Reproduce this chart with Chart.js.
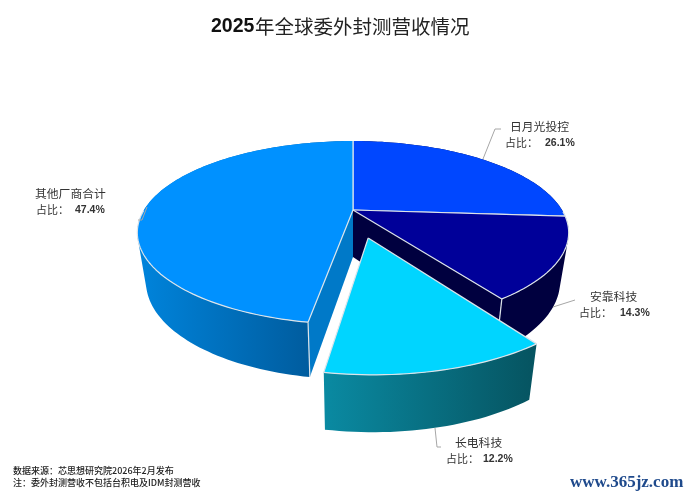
<!DOCTYPE html>
<html><head><meta charset="utf-8">
<style>html,body{margin:0;padding:0;background:#fff}canvas{display:block}</style>
<script src="https://cdn.jsdelivr.net/npm/chart.js@4"></script></head>
<body><canvas id="c" width="693" height="498"></canvas>
<script>
const categories = ['日月光投控','安靠科技','长电科技','其他厂商合计'];
const shares = [26.1,14.3,12.2,47.4];
const topColors = ['#0047FF','#000099','#00D5FF','#0091FF'];
const titleNumber = '2025';
const titleText = '年全球委外封测营收情况';
const sourceNote = '数据来源：芯思想研究院2026年2月发布';
const scopeNote = '注：委外封测营收不包括台积电及IDM封测营收';
const watermark = 'www.365jz.com';

// projection of the pie plane on to the page
const P = {cx:353, cy:210, A:209, B:86, p:0.247, shrink:0.96, h0:47, h1:8};
function proj(u,v){const w=1-P.p*v;return {x:P.cx+P.A*u/w,y:P.cy+P.B*v/w,v};}
function low(q){return {x:P.cx+(q.x-P.cx)*P.shrink,y:q.y+P.h0+P.h1*q.v,v:q.v};}

const walls = [
  {fill:()=>'#00003F',face:'#00003F'},
  {fill:()=>'#00003F',face:'#00003F'},
  {fill:c=>grad(c,324,530,'#0A8AA2','#065562'),face:'#06606F'},
  {fill:c=>grad(c,138,310,'#0084DC','#005C9E'),face:'#0079C8'}
];
function grad(c,a,b,s,e){const g=c.createLinearGradient(a,0,b,0);g.addColorStop(0,s);g.addColorStop(1,e);return g;}

function geom(arc){
  const {startAngle:s,endAngle:e,outerRadius:r}=arc;
  const off=(arc.options.offset||0)/r, m=(s+e)/2;
  const ou=off*Math.cos(m), ov=off*Math.sin(m);
  const rim=[];const n=Math.max(8,Math.round((e-s)*40));
  for(let i=0;i<=n;i++){const t=s+(e-s)*i/n;rim.push(proj(ou+Math.cos(t),ov+Math.sin(t)));}
  return {apex:proj(ou,ov),rim};
}
function poly(c,pts){c.beginPath();pts.forEach((q,i)=>i?c.lineTo(q.x,q.y):c.moveTo(q.x,q.y));}
function line(c,a,b){c.beginPath();c.moveTo(a.x,a.y);c.lineTo(b.x,b.y);c.stroke();}
function area(q){let s=0;q.forEach((a,i)=>{const b=q[(i+1)%q.length];s+=a.x*b.y-b.x*a.y;});return s;}
const EDGE='#DCE4EA';

function drawSlice(c,arc,i,isExploded){
  const g=geom(arc),r=g.rim,a=g.apex,first=r[0],last=r[r.length-1];
  c.lineJoin='round';
  if(!isExploded){
    // radial cut faces next to the pulled-out slice
    [first,last].forEach(q=>{
      c.fillStyle=walls[i].face;
      poly(c,[a,q,low(q),low(a)]);c.closePath();c.fill();
    });
  }
  // outer wall: all rim steps in one path with one winding, filled once
  c.fillStyle=walls[i].fill(c);
  c.beginPath();
  for(let k=0;k<r.length-1;k++){
    let q=[r[k],r[k+1],low(r[k+1]),low(r[k])];
    if(area(q)<0)q=q.reverse();
    q.forEach((o,j)=>j?c.lineTo(o.x,o.y):c.moveTo(o.x,o.y));
    c.closePath();
  }
  c.fill('nonzero');
}
function drawTop(c,arc,i){
  const g=geom(arc),r=g.rim,a=g.apex;
  c.fillStyle=arc.options.backgroundColor;
  poly(c,[a].concat(r));c.closePath();c.fill();
  c.strokeStyle=EDGE;c.lineWidth=1.2;
  line(c,a,r[0]);line(c,a,r[r.length-1]);
  // only the near part of the rim carries a light edge
  c.beginPath();let pen=false;
  r.forEach(q=>{if(q.v>0){pen?c.lineTo(q.x,q.y):c.moveTo(q.x,q.y);pen=true;}else pen=false;});
  c.stroke();
}

const leaders=[
  [[483,159],[495,129],[501,129]],
  [[553,307],[575,300]],
  [[435,428],[437,447],[441,447]],
  [[147,207],[142,220],[138,220]]
];
const labelPos=[
  {nx:510,ny:127,sx:505,px:545,sy:143},
  {nx:590,ny:297,sx:579,px:620,sy:313},
  {nx:455,ny:443,sx:446,px:483,sy:459},
  {nx:35,ny:194,sx:36,px:75,sy:210}
];
const CJK='"Noto Sans CJK SC"';

const pie3d={id:'pie3d',
  beforeDatasetDraw(chart){
    const c=chart.ctx,arcs=chart.getDatasetMeta(0).data;
    const ex=i=>(arcs[i].options.offset||0)>0;
    c.save();
    const order=[0,1,3,2].filter(i=>!ex(i));
    order.forEach(i=>drawSlice(c,arcs[i],i,false));
    order.forEach(i=>{
      const g=geom(arcs[i]);
      [g.rim[0],g.rim[g.rim.length-1]].forEach(q=>{
        if(q.v>0.5){c.strokeStyle=EDGE;c.lineWidth=1.2;line(c,q,low(q));}
      });
    });
    order.forEach(i=>drawTop(c,arcs[i],i));
    arcs.forEach((a,i)=>{if(ex(i)){drawSlice(c,a,i,true);drawTop(c,a,i);}});
    c.restore();
    return false;
  },
  afterDraw(chart){
    const c=chart.ctx;c.save();
    c.strokeStyle='#A6A6A6';c.lineWidth=1;
    leaders.forEach(l=>{c.beginPath();l.forEach((p,i)=>i?c.lineTo(p[0],p[1]):c.moveTo(p[0],p[1]));c.stroke();});
    c.textBaseline='middle';c.textAlign='left';
    categories.forEach((name,i)=>{
      const p=labelPos[i];
      c.fillStyle='#333';
      c.font='11.8px '+CJK;c.fillText(name,p.nx,p.ny);
      c.font='11px '+CJK;c.fillText('占比：',p.sx,p.sy);
      c.font='bold 10.5px "Liberation Sans"';c.fillText(shares[i].toFixed(1)+'%',p.px,p.sy);
    });
    c.fillStyle='#111';
    c.font='bold 19.5px "Liberation Sans"';c.fillText(titleNumber,211,27);
    c.fillStyle='#222';
    c.font='19.5px '+CJK;c.fillText(titleText,255,27);
    c.fillStyle='#222';
    c.font='500 9px '+CJK;
    c.fillText(sourceNote,13,471);c.fillText(scopeNote,13,483);
    c.fillStyle='#1F4A8C';
    c.font='bold 17px "Liberation Serif"';c.fillText(watermark,570,483);
    c.restore();
  }
};

new Chart(document.getElementById('c'),{
  type:'pie',
  data:{labels:categories,datasets:[{data:shares,backgroundColor:topColors,borderWidth:0,offset:[0,0,66.5,0]}]},
  options:{responsive:false,animation:false,events:[],
    plugins:{legend:{display:false},tooltip:{enabled:false}}},
  plugins:[pie3d]
});
</script></body></html>
